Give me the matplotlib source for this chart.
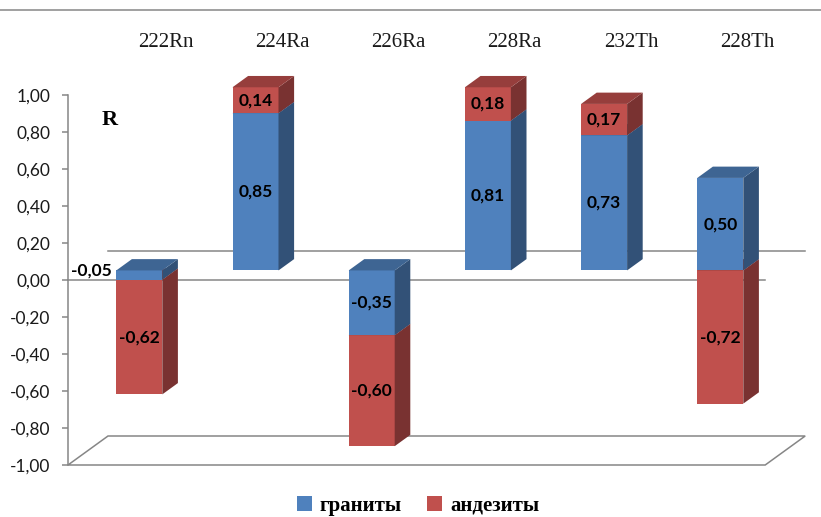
import numpy as np
import matplotlib
matplotlib.use("Agg")
import matplotlib.pyplot as plt
from matplotlib.patches import Polygon, Patch
from matplotlib.ticker import FuncFormatter

categories = ["222Rn", "224Ra", "226Ra", "228Ra", "232Th", "228Th"]
granites = [-0.05, 0.85, -0.35, 0.81, 0.73, 0.50]
andesites = [-0.62, 0.14, -0.60, 0.18, 0.17, -0.72]
series_names = ["граниты", "андезиты"]
yticks = [-1.0, -0.8, -0.6, -0.4, -0.2, 0.0, 0.2, 0.4, 0.6, 0.8, 1.0]

BLUE = "#4F81BD"
RED = "#C0504D"
GRID = "#868686"

# pixel scale of the plot: one category = 116.2 px, one unit of R = 185 px
XPX, YPX = 116.2, 185.0
# full depth of the 3d box and the slab occupied by the bars
DX, DY = 40 / XPX, 29 / YPX
FRONT, BACK = 0.33, 0.72
BAR_W = 46 / XPX


def shade(color, k):
    r, g, b = matplotlib.colors.to_rgb(color)
    return (r * k, g * k, b * k)


def fmt(v):
    return f"{v:.2f}".replace(".", ",")


fig = plt.figure(figsize=(8.21, 5.17), dpi=100)
ax = fig.add_axes([0, 0, 1, 1])
ax.set_xlim(-68 / XPX, (821 - 68) / XPX)
ax.set_ylim((280 - 517) / YPX, 280 / YPX)
ax.patch.set_alpha(0)

for s in ["top", "right", "bottom"]:
    ax.spines[s].set_visible(False)
ax.spines["left"].set_position(("data", 0))
ax.spines["left"].set_bounds(-1, 1)
ax.spines["left"].set_color(GRID)
ax.spines["left"].set_linewidth(1.1)
ax.set_xticks([])
ax.set_yticks(yticks)
ax.yaxis.set_major_formatter(FuncFormatter(lambda v, p: fmt(v)))
ax.tick_params(axis="y", length=4.3, width=1.1, color=GRID, pad=8.5,
               labelsize=12.5, labelcolor="#1a1a1a")
for lab in ax.get_yticklabels():
    lab.set_family("Lato")

n = len(categories)
# floor
floor = Polygon([(0, -1), (DX, -1 + DY), (n + DX, -1 + DY), (n, -1)],
                closed=True, facecolor="white", edgecolor=GRID, lw=1.1, zorder=1)
ax.add_patch(floor)
# zero lines on the back wall and at the front
ax.plot([DX, n + DX], [DY, DY], color=GRID, lw=1.1, zorder=1)
ax.plot([0, n], [0, 0], color=GRID, lw=1.1, zorder=1)
# frame line along the top
ax.axhline((280 - 10) / YPX, color=GRID, lw=1.1, zorder=1)

fx, fy = FRONT * DX, FRONT * DY
ddx, ddy = (BACK - FRONT) * DX, (BACK - FRONT) * DY

for i in range(n):
    pos, neg = 0.0, 0.0
    segs = []
    for val, col in [(granites[i], BLUE), (andesites[i], RED)]:
        if val >= 0:
            segs.append((pos, pos + val, val, col))
            pos += val
        else:
            segs.append((neg + val, neg, val, col))
            neg += val
    segs.sort(key=lambda s: s[0])
    x0 = i + 0.5 - BAR_W / 2 + fx
    for k, (lo, hi, val, col) in enumerate(segs):
        z = 3 + k
        ax.bar(x0, hi - lo, bottom=lo + fy, width=BAR_W, align="edge",
               color=col, edgecolor="none", zorder=z)
        side = [(x0 + BAR_W, lo + fy), (x0 + BAR_W + ddx, lo + fy + ddy),
                (x0 + BAR_W + ddx, hi + fy + ddy), (x0 + BAR_W, hi + fy)]
        top = [(x0, hi + fy), (x0 + ddx, hi + fy + ddy),
               (x0 + BAR_W + ddx, hi + fy + ddy), (x0 + BAR_W, hi + fy)]
        ax.add_patch(Polygon(side, closed=True, facecolor=shade(col, 0.63),
                             edgecolor="none", zorder=z))
        ax.add_patch(Polygon(top, closed=True, facecolor=shade(col, 0.78),
                             edgecolor="none", zorder=z))
        if abs(val) < 0.1:
            ax.text(x0 - 0.04, hi + fy, fmt(val), ha="right", va="center",
                    fontsize=12.5, fontweight="bold", family="Lato", zorder=10)
        else:
            ax.text(x0 + BAR_W / 2, (lo + hi) / 2 + fy, fmt(val), ha="center",
                    va="center", fontsize=12.5, fontweight="bold",
                    family="Lato", zorder=10)
    ax.text(i + 0.5 + DX, (280 - 42) / YPX, categories[i], ha="center",
            va="center", fontsize=15, family="Liberation Serif", color="#1a1a1a")

ax.text(110 / XPX - 68 / XPX, (280 - 120) / YPX, "R", ha="center", va="center",
        fontsize=16, fontweight="bold", family="Liberation Serif")

handles = [Patch(facecolor=BLUE), Patch(facecolor=RED)]
fig.legend(handles, series_names, loc="center", ncol=2, frameon=False,
           bbox_to_anchor=(418 / 821, 11 / 517), handlelength=0.7,
           handleheight=0.7, handletextpad=0.4, columnspacing=1.2,
           borderpad=0.2,
           prop={"family": "Liberation Serif", "weight": "bold", "size": 15})

fig.savefig("out.png", dpi=100)
